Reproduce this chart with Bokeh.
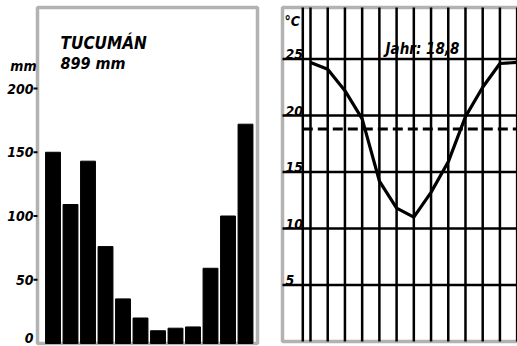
from bokeh.plotting import figure
from bokeh.layouts import row
from bokeh.models import Range1d, BoxAnnotation
from bokeh.core.properties import value
from bokeh.embed import file_html
from bokeh.resources import INLINE

months = ["Jan", "Feb", "Mär", "Apr", "Mai", "Jun", "Jul", "Aug", "Sep", "Okt", "Nov", "Dez"]
precip_mm = [150, 109, 143, 76, 35, 20, 10, 12, 13, 59, 100, 172]
temp_c = [24.7, 24.1, 22.2, 19.7, 14.2, 11.8, 11.0, 13.2, 15.9, 19.9, 22.5, 24.6]
precip_ticks = [0, 50, 100, 150, 200]
temp_ticks = [5, 10, 15, 20, 25]
station = "TUCUMÁN"
annual_precip_text = "899 mm"
annual_mean_c = 18.8
annual_temp_text = "Jahr: 18,8"

FONT = value("DejaVu Sans Condensed")
STYLE = "bold italic"
idx = list(range(len(months)))


def bare(fig):
    fig.xaxis.visible = False
    fig.yaxis.visible = False
    fig.grid.visible = False
    fig.outline_line_color = None
    fig.background_fill_color = "white"
    fig.border_fill_color = "white"


# ---------- left: precipitation ----------
W1, H = 270, 346
px_x1 = 17.5          # px per month
px_y1 = 1.275         # px per mm
x0_px1, y0_px1 = 52.5, 343
p1 = figure(width=W1, height=H,
            x_range=Range1d(-x0_px1 / px_x1, (W1 - x0_px1) / px_x1),
            y_range=Range1d(-(H - y0_px1) / px_y1, y0_px1 / px_y1),
            output_backend="svg", toolbar_location=None,
            min_border=0, min_border_left=0, min_border_right=0, min_border_top=0, min_border_bottom=0)
bare(p1)
fl1 = (37 - x0_px1) / px_x1
fr1 = (257 - x0_px1) / px_x1
ft1 = (y0_px1 - 7) / px_y1
p1.vbar(x=idx, top=precip_mm, width=0.85, color="black")
p1.add_layout(BoxAnnotation(left=fl1, right=fr1, bottom=0, top=ft1, fill_color=None,
                            line_color="black", line_width=3.5))
tick_len = 4 / px_x1
nz = [t for t in precip_ticks if t > 0]
p1.segment(x0=[fl1 - tick_len] * len(nz), x1=[fl1] * len(nz), y0=nz, y1=nz,
           line_color="black", line_width=2)
p1.text(x=[fl1 - 4 / px_x1] * len(precip_ticks), y=precip_ticks, text=[str(t) for t in precip_ticks],
        y_offset=[-6 if t == 0 else 0 for t in precip_ticks],
        text_align="right", text_baseline="middle",
        text_font=FONT, text_font_style=STYLE, text_font_size="14px", text_color="black")
p1.text(x=[fl1 - 1 / px_x1], y=[precip_ticks[-1] + 18], text=["mm"],
        text_align="right", text_baseline="middle",
        text_font=FONT, text_font_style=STYLE, text_font_size="14px", text_color="black")
p1.text(x=[0.43], y=[236], text=[station], text_align="left", text_baseline="alphabetic",
        text_font=FONT, text_font_style=STYLE, text_font_size="17px", text_color="black")
p1.text(x=[0.43], y=[219.5], text=[annual_precip_text], text_align="left", text_baseline="alphabetic",
        text_font=FONT, text_font_style=STYLE, text_font_size="16px", text_color="black")

# ---------- right: temperature ----------
W2 = 247
px_x2 = 17.22
px_y2 = 11.3
x0_px2, y0_px2 = 40, 341
p2 = figure(width=W2, height=H,
            x_range=Range1d(-x0_px2 / px_x2, (W2 - x0_px2) / px_x2),
            y_range=Range1d(-(H - y0_px2) / px_y2, y0_px2 / px_y2),
            output_backend="svg", toolbar_location=None,
            min_border=0, min_border_left=0, min_border_right=0, min_border_top=0, min_border_bottom=0)
bare(p2)
fl2 = (12 - x0_px2) / px_x2
fr2 = (W2 + 10 - x0_px2) / px_x2
ft2 = (y0_px2 - 7) / px_y2
ax2 = (32.3 - x0_px2) / px_x2
nv = len(months) + 1
p2.segment(x0=list(range(nv)), x1=list(range(nv)), y0=[0] * nv, y1=[ft2] * nv,
           line_color="black", line_width=2.5)
p2.segment(x0=[ax2], x1=[ax2], y0=[0], y1=[ft2], line_color="black", line_width=2.5)
p2.segment(x0=[fl2] * len(temp_ticks), x1=[fr2] * len(temp_ticks), y0=temp_ticks, y1=temp_ticks,
           line_color="black", line_width=2.5)
p2.add_layout(BoxAnnotation(left=fl2, right=fr2, bottom=0, top=ft2, fill_color=None,
                            line_color="black", line_width=3.5))

p2.line(x=idx + [len(months)], y=temp_c + [temp_c[0]], line_color="black", line_width=3.2, line_join="round")
p2.segment(x0=[ax2], x1=[fr2], y0=[annual_mean_c], y1=[annual_mean_c],
           line_color="black", line_width=3, line_dash="10 5")

p2.text(x=[fl2 + 3 / px_x2] * len(temp_ticks), y=temp_ticks, text=[str(t) for t in temp_ticks],
        text_baseline="bottom", text_align="left", y_offset=0,
        text_font=FONT, text_font_style=STYLE, text_font_size="14px", text_color="black")
p2.text(x=[fl2 + 2 / px_x2], y=[28.36], text=["°C"], text_baseline="middle", text_align="left",
        text_font=FONT, text_font_style=STYLE, text_font_size="14px", text_color="black")
p2.text(x=[4.36], y=[25], text=[annual_temp_text], text_baseline="bottom", text_align="left", y_offset=-1,
        text_font=FONT, text_font_style=STYLE, text_font_size="15px", text_color="black")

layout = row(p1, p2, spacing=0)
open("out.html", "w").write(file_html(layout, INLINE))
